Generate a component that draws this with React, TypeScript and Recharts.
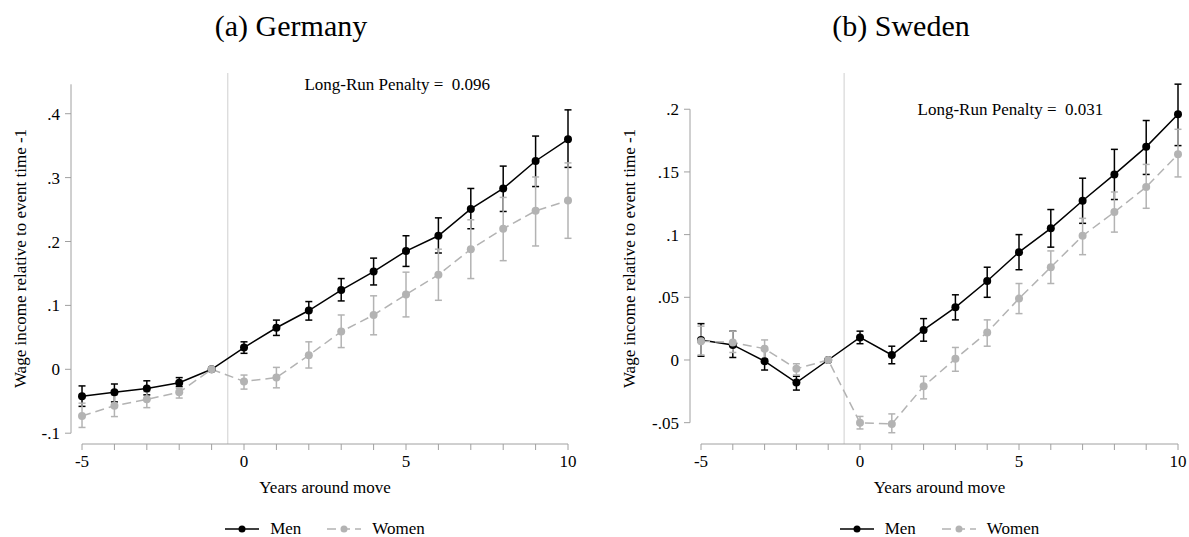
import React from 'react';
import {
  LineChart, Line, XAxis, YAxis, ErrorBar, ReferenceLine, ReferenceDot, Legend,
} from 'recharts';

const years = [-5, -4, -3, -2, -1, 0, 1, 2, 3, 4, 5, 6, 7, 8, 9, 10];
const xTickLabels = [-5, 0, 5, 10];

// Germany
const deMen = [-0.042, -0.036, -0.030, -0.021, 0, 0.034, 0.065, 0.092, 0.124, 0.153, 0.185, 0.209, 0.251, 0.283, 0.326, 0.360];
const deMenLo = [-0.058, -0.051, -0.040, -0.027, 0, 0.025, 0.053, 0.077, 0.107, 0.132, 0.161, 0.182, 0.220, 0.247, 0.286, 0.316];
const deMenHi = [-0.026, -0.023, -0.018, -0.013, 0, 0.043, 0.077, 0.106, 0.142, 0.174, 0.209, 0.237, 0.283, 0.318, 0.365, 0.406];
const deWomen = [-0.073, -0.057, -0.047, -0.036, 0, -0.019, -0.013, 0.022, 0.059, 0.085, 0.117, 0.148, 0.188, 0.220, 0.248, 0.264];
const deWomenLo = [-0.091, -0.074, -0.060, -0.045, 0, -0.031, -0.029, 0.002, 0.034, 0.054, 0.082, 0.108, 0.142, 0.170, 0.193, 0.205];
const deWomenHi = [-0.053, -0.040, -0.035, -0.030, 0, -0.009, 0.003, 0.043, 0.085, 0.115, 0.152, 0.188, 0.234, 0.269, 0.301, 0.323];
const deYTicks = [-0.1, 0, 0.1, 0.2, 0.3, 0.4];

// Sweden
const seMen = [0.016, 0.012, -0.001, -0.018, 0, 0.018, 0.004, 0.024, 0.042, 0.063, 0.086, 0.105, 0.127, 0.148, 0.170, 0.196];
const seMenLo = [0.003, 0.002, -0.008, -0.024, 0, 0.013, -0.003, 0.015, 0.032, 0.050, 0.072, 0.090, 0.109, 0.128, 0.148, 0.171];
const seMenHi = [0.029, 0.023, 0.008, -0.013, 0, 0.023, 0.011, 0.033, 0.052, 0.074, 0.100, 0.120, 0.145, 0.168, 0.191, 0.220];
const seWomen = [0.015, 0.014, 0.009, -0.007, 0, -0.050, -0.051, -0.021, 0.001, 0.022, 0.049, 0.074, 0.099, 0.118, 0.138, 0.164];
const seWomenLo = [0.004, 0.006, 0.001, -0.012, 0, -0.055, -0.058, -0.031, -0.009, 0.011, 0.037, 0.061, 0.084, 0.102, 0.121, 0.146];
const seWomenHi = [0.027, 0.023, 0.016, -0.003, 0, -0.045, -0.043, -0.013, 0.010, 0.032, 0.061, 0.087, 0.113, 0.134, 0.156, 0.184];
const seYTicks = [-0.05, 0, 0.05, 0.1, 0.15, 0.2];

const FONT = '"Liberation Serif", "Times New Roman", Times, serif';
const BLACK = '#000000';
const GRAY = '#b3b3b3';
const AXIS = '#a0a0a0';
const H = 537;

const series = [
  { key: 'men', name: 'Men', color: BLACK, dash: undefined as string | undefined },
  { key: 'women', name: 'Women', color: GRAY, dash: '9 5' },
];

function buildRows(men: number[], menLo: number[], menHi: number[], women: number[], womenLo: number[], womenHi: number[]) {
  return years.map((year, i) => ({
    year,
    men: men[i],
    menErr: [men[i] - menLo[i], menHi[i] - men[i]],
    women: women[i],
    womenErr: [women[i] - womenLo[i], womenHi[i] - women[i]],
  }));
}

const fmtY = (v: number) => (v === 0 ? '0' : String(v).replace('0.', '.'));
const fmtX = (v: number) => (xTickLabels.includes(v) ? String(v) : '');

function LegendRow({ payload }: any) {
  return (
    <div style={{ display: 'flex', justifyContent: 'center', alignItems: 'center', height: 22, fontFamily: FONT, fontSize: 17, color: '#000' }}>
      {(payload || []).map((p: any, i: number) => {
        const s = series.find(d => d.key === p.dataKey) || series[0];
        return (
          <div key={s.key} style={{ display: 'flex', alignItems: 'center', marginLeft: i ? 26 : 0 }}>
            <svg width={34} height={10}>
              <line x1={0} y1={5} x2={34} y2={5} stroke={s.color} strokeWidth={1.5} strokeDasharray={s.dash} />
              <circle cx={17} cy={5} r={3.5} fill={s.color} />
            </svg>
            <span style={{ marginLeft: 11 }}>{s.name}</span>
          </div>
        );
      })}
    </div>
  );
}

function Panel({ left, width, title, titleX, rows, yTicks, yDomain, xDomain, penalty, penaltyX, penaltyY, yTitleGap, margin }: any) {
  const axisTop = Math.max(yTicks[yTicks.length - 1], penaltyY);
  const span = xDomain[1] - xDomain[0];

  const xTitle = (props: any) => {
    const vb = props.viewBox;
    const cx = vb.x + vb.width * ((2.5 - xDomain[0]) / span);
    const cy = vb.y + 43;
    return (
      <text x={cx} y={cy} textAnchor="middle" dominantBaseline="central" fill="#000" fontSize={17} fontFamily={FONT}>
        Years around move
      </text>
    );
  };

  const yTitle = (props: any) => {
    const vb = props.viewBox;
    const x = vb.x + vb.width - yTitleGap;
    const y = vb.y + vb.height / 2;
    return (
      <text x={x} y={y} transform={`rotate(-90 ${x} ${y})`} textAnchor="middle" dominantBaseline="central" fill="#000" fontSize={17} fontFamily={FONT}>
        Wage income relative to event time -1
      </text>
    );
  };

  const plotLeft = margin.left + 50;
  const plotWidth = width - margin.right - plotLeft;
  const firstYear = plotLeft + plotWidth * ((-5 - xDomain[0]) / span);

  return (
    <div style={{ position: 'absolute', left, top: 0, width, height: H }}>
      <div style={{ position: 'absolute', left: titleX - left - 150, width: 300, top: 11, textAlign: 'center', fontSize: 30, lineHeight: '30px', fontFamily: FONT, color: '#000' }}>
        {title}
      </div>
      <LineChart width={width} height={H} data={rows} margin={margin}>
        <XAxis
          type="number"
          dataKey="year"
          domain={xDomain}
          ticks={years}
          interval={0}
          tickFormatter={fmtX}
          axisLine={false}
          tickLine={{ stroke: AXIS }}
          tickSize={6}
          tickMargin={5}
          height={30}
          tick={{ fill: '#000', fontSize: 17, fontFamily: FONT }}
          label={{ content: xTitle }}
        />
        <YAxis
          type="number"
          domain={yDomain}
          ticks={yTicks}
          interval={0}
          tickFormatter={fmtY}
          axisLine={false}
          tickLine={{ stroke: AXIS }}
          tickSize={6}
          tickMargin={5}
          width={50}
          tick={{ fill: '#000', fontSize: 17, fontFamily: FONT }}
          label={{ content: yTitle }}
        />
        <ReferenceLine x={-0.5} stroke="#cfcfcf" strokeWidth={1} />
        <ReferenceLine
          segment={[{ x: xDomain[0], y: yTicks[0] }, { x: xDomain[0], y: axisTop }]}
          stroke={AXIS}
          ifOverflow="visible"
        />
        <ReferenceLine
          segment={[{ x: years[0], y: yDomain[0] }, { x: years[years.length - 1], y: yDomain[0] }]}
          stroke={AXIS}
          ifOverflow="visible"
        />
        <ReferenceDot
          x={penaltyX}
          y={penaltyY}
          r={0}
          fill="none"
          stroke="none"
          label={{ value: penalty, position: 'center', fill: '#000', fontSize: 17, fontFamily: FONT }}
        />
        {series.map(s => (
          <Line
            key={s.key}
            dataKey={s.key}
            name={s.name}
            type="linear"
            stroke={s.color}
            strokeWidth={1.5}
            strokeDasharray={s.dash}
            dot={{ r: 4, fill: s.color, stroke: s.color, strokeWidth: 0 }}
            activeDot={false}
            isAnimationActive={false}
          >
            <ErrorBar dataKey={`${s.key}Err`} direction="y" width={3.5} stroke={s.color} strokeWidth={1.5} />
          </Line>
        ))}
        <Legend
          verticalAlign="bottom"
          height={22}
          content={<LegendRow />}
          wrapperStyle={{ top: 518, bottom: 'auto', left: firstYear, width: plotLeft + plotWidth - firstYear, height: 22 }}
        />
      </LineChart>
    </div>
  );
}

export default function App() {
  const deRows = buildRows(deMen, deMenLo, deMenHi, deWomen, deWomenLo, deWomenHi);
  const seRows = buildRows(seMen, seMenLo, seMenHi, seWomen, seWomenLo, seWomenHi);
  return (
    <div style={{ position: 'absolute', left: 0, top: 0, width: 1189, height: H, background: '#fff', fontFamily: FONT }}>
      <Panel
        left={0}
        width={594}
        title="(a) Germany"
        titleX={291}
        rows={deRows}
        yTicks={deYTicks}
        yDomain={[-0.1169, 0.4637]}
        xDomain={[-5.34, 10]}
        penalty={'Long-Run Penalty =\u00a0 0.096'}
        penaltyX={4.73}
        penaltyY={0.446}
        yTitleGap={51}
        margin={{ top: 73, right: 26, bottom: 41, left: 21 }}
      />
      <Panel
        left={594}
        width={595}
        title="(b) Sweden"
        titleX={901}
        rows={seRows}
        yTicks={seYTicks}
        yDomain={[-0.067, 0.2289]}
        xDomain={[-5.346, 10]}
        penalty={'Long-Run Penalty =\u00a0 0.031'}
        penaltyX={4.73}
        penaltyY={0.2}
        yTitleGap={61}
        margin={{ top: 73, right: 11, bottom: 41, left: 46 }}
      />
    </div>
  );
}
